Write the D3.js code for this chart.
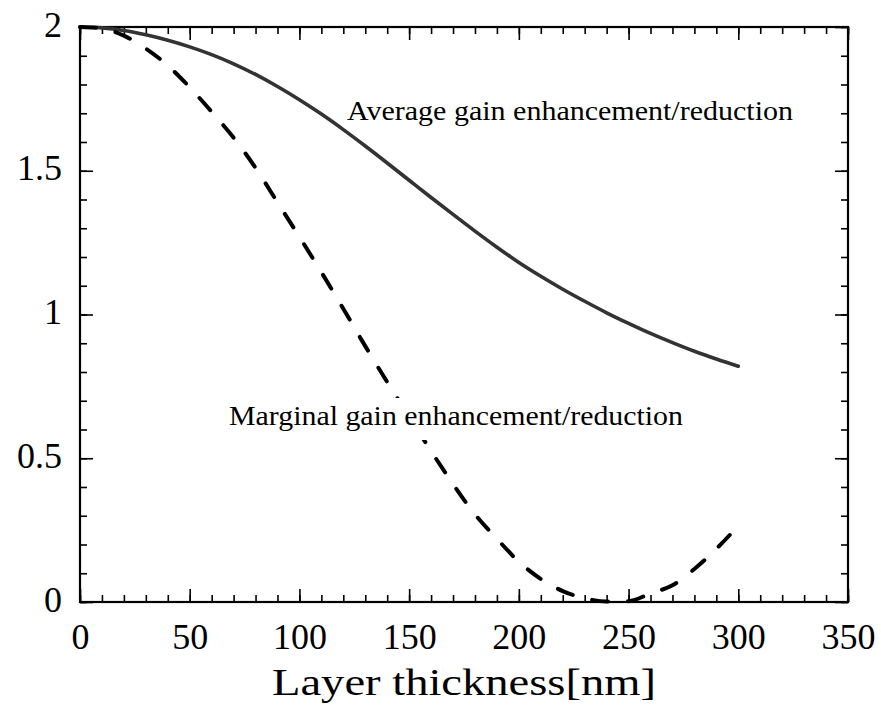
<!DOCTYPE html>
<html>
<head>
<meta charset="utf-8">
<script src="https://cdn.jsdelivr.net/npm/d3@7"></script>
<style>
  html, body { margin: 0; padding: 0; background: #fff; }
  svg { display: block; }
  text { font-family: "Liberation Serif", "DejaVu Serif", "Times New Roman", serif; fill: #000; }
</style>
</head>
<body>
<script>
// Layer thickness samples [nm]
const thickness = [0, 10, 20, 30, 40, 50, 60, 70, 80, 90, 100, 110, 120, 130, 140, 150,
  160, 170, 180, 190, 200, 210, 220, 230, 240, 250, 260, 270, 280, 290, 300];

// Average gain enhancement/reduction (solid)
const averageGain = [2.0, 1.997, 1.988, 1.973, 1.954, 1.931, 1.904, 1.872, 1.835, 1.793, 1.747,
  1.697, 1.643, 1.586, 1.527, 1.467, 1.407, 1.348, 1.290, 1.234, 1.181, 1.133, 1.088, 1.046,
  1.006, 0.969, 0.934, 0.902, 0.872, 0.845, 0.82];

// Marginal gain enhancement/reduction (dashed)
const marginalGain = [2.0, 1.995, 1.97, 1.925, 1.866, 1.79, 1.705, 1.615, 1.51, 1.39, 1.27,
  1.147, 1.02, 0.89, 0.765, 0.645, 0.525, 0.41, 0.305, 0.22, 0.14, 0.08, 0.038, 0.013,
  0.002, 0.003, 0.03, 0.058, 0.115, 0.185, 0.265];

const xMajor = [0, 50, 100, 150, 200, 250, 300, 350];
const xMinor = d3.range(0, 351, 10);
const yMajor = [0, 0.5, 1, 1.5, 2];
const yMinor = d3.range(0, 2.001, 0.1);

const W = 881, H = 705;
const plotL = 80, plotR = 848, plotT = 27, plotB = 602;

const svg = d3.select("body").append("svg").attr("width", W).attr("height", H);

const x = d3.scaleLinear().domain([0, 350]).range([plotL, plotR]);
const y = d3.scaleLinear().domain([0, 2]).range([plotB, plotT]);

const major = 13, minor = 7;
const tickFont = 36;

function styleAxis(g) {
  g.select(".domain").remove();
  g.selectAll(".tick line").attr("stroke", "#000").attr("stroke-width", 1.6);
}

// bottom axis with labels
svg.append("g").attr("transform", `translate(0,${plotB})`)
  .call(d3.axisBottom(x).tickValues(xMinor).tickSize(-minor).tickFormat(""))
  .call(styleAxis);
svg.append("g").attr("transform", `translate(0,${plotB})`)
  .call(d3.axisBottom(x).tickValues(xMajor).tickSize(-major).tickFormat(d3.format("d")))
  .call(styleAxis)
  .call(g => g.selectAll("text").attr("font-size", tickFont).attr("y", 47).attr("dy", null));

// top axis
svg.append("g").attr("transform", `translate(0,${plotT})`)
  .call(d3.axisTop(x).tickValues(xMinor).tickSize(-minor).tickFormat(""))
  .call(styleAxis);
svg.append("g").attr("transform", `translate(0,${plotT})`)
  .call(d3.axisTop(x).tickValues(xMajor).tickSize(-major).tickFormat(""))
  .call(styleAxis);

// left axis with labels
svg.append("g").attr("transform", `translate(${plotL},0)`)
  .call(d3.axisLeft(y).tickValues(yMinor).tickSize(-minor).tickFormat(""))
  .call(styleAxis);
svg.append("g").attr("transform", `translate(${plotL},0)`)
  .call(d3.axisLeft(y).tickValues(yMajor).tickSize(-major).tickFormat(d3.format("")))
  .call(styleAxis)
  .call(g => g.selectAll("text").attr("font-size", tickFont).attr("x", -18).attr("dy", null).attr("y", 9));

// right axis
svg.append("g").attr("transform", `translate(${plotR},0)`)
  .call(d3.axisRight(y).tickValues(yMinor).tickSize(-minor).tickFormat(""))
  .call(styleAxis);
svg.append("g").attr("transform", `translate(${plotR},0)`)
  .call(d3.axisRight(y).tickValues(yMajor).tickSize(-major).tickFormat(""))
  .call(styleAxis);

// frame
svg.append("rect")
  .attr("x", plotL).attr("y", plotT)
  .attr("width", plotR - plotL).attr("height", plotB - plotT)
  .attr("fill", "none").attr("stroke", "#000").attr("stroke-width", 2.2);

const line = vals => d3.line()
  .x((d, i) => x(thickness[i]))
  .y(d => y(d))
  .curve(d3.curveMonotoneX)(vals);

svg.append("path")
  .attr("d", line(averageGain))
  .attr("fill", "none").attr("stroke", "#333").attr("stroke-width", 3.6)
  .attr("stroke-linecap", "round");

svg.append("path")
  .attr("d", line(marginalGain))
  .attr("fill", "none").attr("stroke", "#000").attr("stroke-width", 4)
  .attr("stroke-linecap", "round")
  .attr("stroke-dasharray", "16,20");

// annotations (the lower one sits on a white box that masks the dashed curve)
svg.append("text").attr("x", 347).attr("y", 120)
  .attr("font-size", 27).attr("textLength", 446).attr("lengthAdjust", "spacingAndGlyphs")
  .text("Average gain enhancement/reduction");

svg.append("rect").attr("x", 226).attr("y", 398).attr("width", 460).attr("height", 42)
  .attr("fill", "#fff");
svg.append("text").attr("x", 229).attr("y", 425)
  .attr("font-size", 28).attr("textLength", 454).attr("lengthAdjust", "spacingAndGlyphs")
  .text("Marginal gain enhancement/reduction");

// axis title
svg.append("text").attr("x", 464).attr("y", 695).attr("text-anchor", "middle")
  .attr("font-size", 38).attr("textLength", 384).attr("lengthAdjust", "spacingAndGlyphs")
  .text("Layer thickness[nm]");
</script>
</body>
</html>
